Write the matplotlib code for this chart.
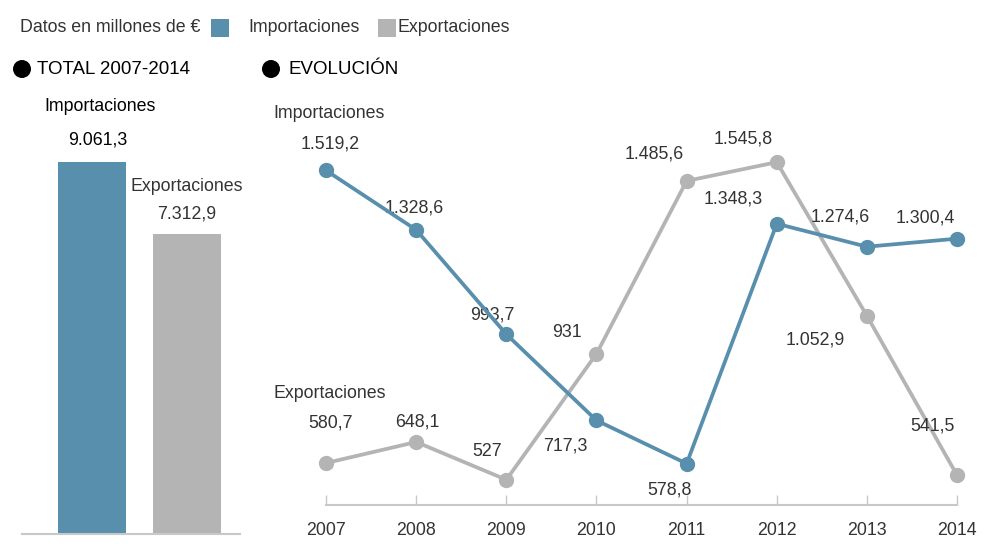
import matplotlib
matplotlib.use("Agg")
import matplotlib.pyplot as plt
from matplotlib.patches import Rectangle, Ellipse

plt.rcParams['font.family'] = ['Liberation Sans', 'DejaVu Sans']

years = [2007, 2008, 2009, 2010, 2011, 2012, 2013, 2014]
importaciones = [1519.2, 1328.6, 993.7, 717.3, 578.8, 1348.3, 1274.6, 1300.4]
exportaciones = [580.7, 648.1, 527.0, 931.0, 1485.6, 1545.8, 1052.9, 541.5]
total_labels = ["Importaciones", "Exportaciones"]
total_values = [9061.3, 7312.9]

BLUE = "#588fad"
GRAY = "#b4b4b5"
TXT = "#333333"

W, H = 997, 555
fig = plt.figure(figsize=(W / 100, H / 100), dpi=100)


def fmt(v):
    s = f"{v:,.1f}"
    s = s.replace(",", "X").replace(".", ",").replace("X", ".")
    if s.endswith(",0"):
        s = s[:-2]
    return s


def px_axes(left, top, right, bottom):
    return fig.add_axes([left / W, 1 - bottom / H, (right - left) / W, (bottom - top) / H])


FS = 12.8

# Header
fig.text(20 / W, 1 - 27 / H, "Datos en millones de €", fontsize=FS, color=TXT, va="center")
fig.patches.append(Rectangle((211 / W, 1 - 37 / H), 18 / W, 18 / H, transform=fig.transFigure,
                             facecolor=BLUE, edgecolor="none"))
fig.text(248 / W, 1 - 27 / H, "Importaciones", fontsize=FS, color=TXT, va="center")
fig.patches.append(Rectangle((378 / W, 1 - 37 / H), 18 / W, 18 / H, transform=fig.transFigure,
                             facecolor=GRAY, edgecolor="none"))
fig.text(397 / W, 1 - 27 / H, "Exportaciones", fontsize=FS, color=TXT, va="center")

for cx, x_txt, t in [(22, 37, "TOTAL 2007-2014"), (271, 288, "EVOLUCIÓN")]:
    fig.patches.append(Ellipse((cx / W, 1 - 69 / H), 18 / W, 18 / H, transform=fig.transFigure,
                               facecolor="black", edgecolor="none"))
    fig.text(x_txt / W, 1 - 70 / H, t, fontsize=13.5, color="black", va="center")

# Left: totals bar chart
axb = px_axes(22, 150, 240, 534)
pos = [0, 1]
axb.bar(pos, total_values, width=0.726, color=[BLUE, GRAY])
axb.set_xlim(-0.737, 1.558)
axb.set_ylim(0, 384 / 0.04105)
for s in ["top", "right", "left"]:
    axb.spines[s].set_visible(False)
axb.spines["bottom"].set_color("#c8c8c8")
axb.spines["bottom"].set_linewidth(1.5)
axb.set_xticks([])
axb.set_yticks([])
axb.annotate(total_labels[0], (pos[0], total_values[0]), xytext=(8, 56), textcoords="offset pixels",
             ha="center", va="center", fontsize=FS, color="black")
axb.annotate(fmt(total_values[0]), (pos[0], total_values[0]), xytext=(6, 22), textcoords="offset pixels",
             ha="center", va="center", fontsize=FS, color="black")
axb.annotate(total_labels[1], (pos[1], total_values[1]), xytext=(0, 47), textcoords="offset pixels",
             ha="center", va="center", fontsize=FS, color=TXT)
axb.annotate(fmt(total_values[1]), (pos[1], total_values[1]), xytext=(0, 20), textcoords="offset pixels",
             ha="center", va="center", fontsize=FS, color=TXT)

# Right: evolution line chart
ax = px_axes(290, 130, 985, 505)
ax.plot(years, exportaciones, color=GRAY, lw=2.7, marker="o", ms=10, zorder=3)
ax.plot(years, importaciones, color=BLUE, lw=2.7, marker="o", ms=10, zorder=4)
ax.set_xlim(2006.6, 2014.31)
ax.set_ylim(446, 1649)
for s in ["top", "right", "left"]:
    ax.spines[s].set_visible(False)
ax.spines["bottom"].set_color("#c8c8c8")
ax.spines["bottom"].set_linewidth(1.5)
ax.spines["bottom"].set_bounds(years[0], years[-1])
ax.set_yticks([])
ax.set_xticks(years)
ax.set_xticklabels([str(y) for y in years])
ax.tick_params(axis="x", direction="in", length=7, width=1, color="#c8c8c8",
               labelsize=12.8, labelcolor=TXT, pad=12)

imp_off = [(4, 26), (-2, 22), (-14, 19), (-31, -26), (-17, -26), (-44, 25), (-27, 30), (-32, 21)]
exp_off = [(4, 40), (1, 20), (-19, 28), (-30, 21), (-32, 27), (-34, 23), (-52, -24), (-25, 49)]
for x, v, o in zip(years, importaciones, imp_off):
    ax.annotate(fmt(v), (x, v), xytext=o, textcoords="offset pixels", ha="center", va="center",
                fontsize=FS, color=TXT)
for x, v, o in zip(years, exportaciones, exp_off):
    ax.annotate(fmt(v), (x, v), xytext=o, textcoords="offset pixels", ha="center", va="center",
                fontsize=FS, color=TXT)

fig.text(273 / W, 1 - 114 / H, "Importaciones", fontsize=FS, color=TXT, va="center")
fig.text(273 / W, 1 - 393 / H, "Exportaciones", fontsize=FS, color=TXT, va="center")

fig.savefig("out.png", dpi=100, facecolor="white")
